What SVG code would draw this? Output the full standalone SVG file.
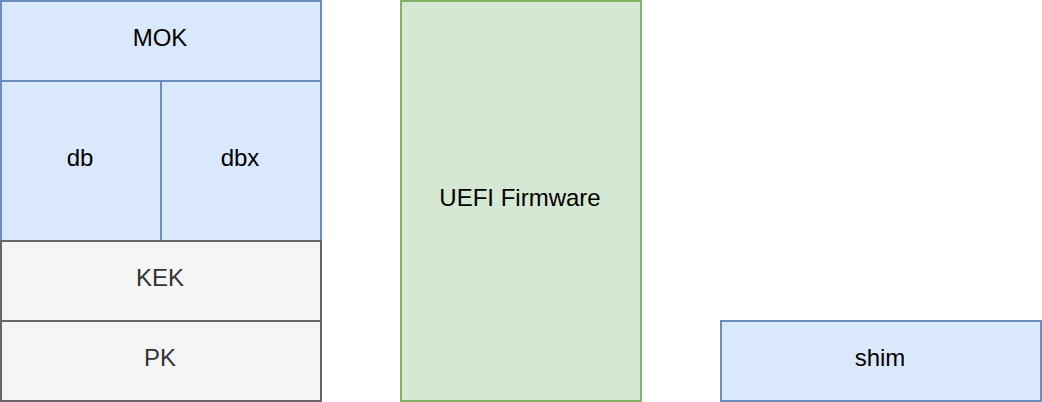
<svg xmlns="http://www.w3.org/2000/svg" width="1042" height="402" viewBox="0 0 1042 402">
<style>
rect{stroke-width:2}
.blue{fill:#dae8fc;stroke:#6c8ebf}
.green{fill:#d5e8d4;stroke:#82b366}
.gray{fill:#f5f5f5;stroke:#666666}
text{font-family:"Liberation Sans",Arial,sans-serif;font-size:24px;text-anchor:middle;fill:#000000}
.gt{fill:#333333}
</style>
<rect width="1042" height="402" fill="#ffffff" stroke="none"/>
<g id="connectors"></g>
<g id="mok"><rect class="blue" x="1" y="1" width="320" height="80"/><text x="160" y="46">MOK</text></g>
<g id="db"><rect class="blue" x="1" y="81" width="160" height="160"/><text x="80" y="166">db</text></g>
<g id="dbx"><rect class="blue" x="161" y="81" width="160" height="160"/><text x="240" y="166">dbx</text></g>
<g id="kek"><rect class="gray" x="1" y="241" width="320" height="80"/><text class="gt" x="160" y="286">KEK</text></g>
<g id="pk"><rect class="gray" x="1" y="321" width="320" height="80"/><text class="gt" x="160" y="366">PK</text></g>
<g id="uefi"><rect class="green" x="401" y="1" width="240" height="400"/><text x="520" y="206">UEFI Firmware</text></g>
<g id="shim"><rect class="blue" x="721" y="321" width="320" height="80"/><text x="880" y="366">shim</text></g>
</svg>
